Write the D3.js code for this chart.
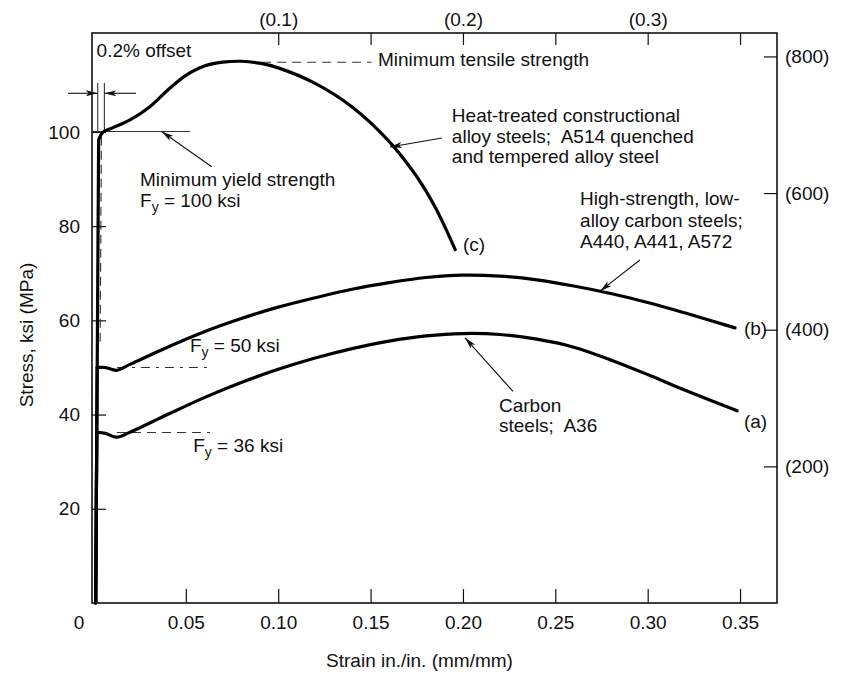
<!DOCTYPE html>
<html>
<head>
<meta charset="utf-8">
<script src="https://cdn.jsdelivr.net/npm/d3@7"></script>
<style>
  body { margin: 0; background: #fff; }
  svg text { font-family: "Liberation Sans", Arial, sans-serif; fill: #111; }
</style>
</head>
<body>
<svg id="chart" width="846" height="675"></svg>
<script>
// Curve (a): carbon steel A36  -- strain in./in., stress ksi
const strainA = [0.0012, 0.0018, 0.0065, 0.0125, 0.0200, 0.04, 0.06, 0.08, 0.10, 0.12, 0.14, 0.16, 0.18, 0.20, 0.22, 0.24, 0.26, 0.28, 0.30, 0.32, 0.3484];
const stressA = [0, 36.2, 36.0, 35.2, 36.3, 40.0, 43.6, 46.8, 49.6, 52.0, 54.0, 55.6, 56.7, 57.2, 57.0, 56.0, 54.3, 51.6, 48.5, 45.2, 40.8];

// Curve (b): high-strength low-alloy
const strainB = [0.0012, 0.0020, 0.0065, 0.0125, 0.0200, 0.04, 0.06, 0.08, 0.10, 0.12, 0.14, 0.16, 0.18, 0.20, 0.22, 0.24, 0.26, 0.28, 0.30, 0.32, 0.3473];
const stressB = [0, 50.0, 50.0, 49.4, 50.7, 54.3, 57.6, 60.4, 62.8, 64.8, 66.6, 68.0, 69.1, 69.6, 69.4, 68.6, 67.3, 65.7, 63.8, 61.6, 58.4];

// Curve (c): heat-treated alloy steel A514
const strainC = [0.0012, 0.0028, 0.0050, 0.010, 0.020, 0.030, 0.040, 0.050, 0.060, 0.070, 0.080, 0.090, 0.100, 0.120, 0.140, 0.160, 0.175, 0.185, 0.1958];
const stressC = [0, 98.3, 99.9, 100.8, 102.6, 105.2, 108.8, 112.0, 114.0, 114.8, 115.0, 114.6, 113.6, 110.3, 105.3, 98.0, 90.5, 84.0, 75.0];

const xTicks = [0, 0.05, 0.10, 0.15, 0.20, 0.25, 0.30, 0.35];
const xTickLabels = ["0", "0.05", "0.10", "0.15", "0.20", "0.25", "0.30", "0.35"];
const topTicks = [0.10, 0.15, 0.20, 0.25, 0.30, 0.35];
const topLabels = ["(0.1)", "", "(0.2)", "", "(0.3)", ""];
const yTicks = [20, 40, 60, 80, 100];
const mpaTicks = [200, 400, 600, 800];
const KSI_TO_MPA = 6.895;

const svg = d3.select("#chart");

const x = d3.scaleLinear().domain([-0.0008, 0.37]).range([92, 777]);
const y = d3.scaleLinear().domain([0, 121]).range([603, 33]);
const yM = d3.scaleLinear().domain([0, 121 * KSI_TO_MPA]).range([603, 33]);

// frame
svg.append("rect")
  .attr("x", x.range()[0]).attr("y", y.range()[1])
  .attr("width", x.range()[1] - x.range()[0])
  .attr("height", y.range()[0] - y.range()[1])
  .attr("fill", "none").attr("stroke", "#111").attr("stroke-width", 1.6);

// axes (ticks point inward)
const gx = svg.append("g").attr("transform", `translate(0,${y(0)})`)
  .call(d3.axisBottom(x).tickValues(xTicks).tickSizeInner(-14).tickSizeOuter(0)
    .tickPadding(13).tickFormat((d, i) => xTickLabels[i]));
gx.selectAll(".tick").filter(d => d === 0).select("line").remove();
gx.selectAll(".tick").filter(d => d === 0).select("text").attr("x", -15);

const gt = svg.append("g").attr("transform", `translate(0,${y.range()[1]})`)
  .call(d3.axisTop(x).tickValues(topTicks).tickSizeInner(-12).tickSizeOuter(0)
    .tickPadding(7).tickFormat((d, i) => topLabels[i]));

const gy = svg.append("g").attr("transform", `translate(${x.range()[0]},0)`)
  .call(d3.axisLeft(y).tickValues(yTicks).tickSizeInner(-14).tickSizeOuter(0).tickPadding(12));

const gr = svg.append("g").attr("transform", `translate(${x.range()[1]},0)`)
  .call(d3.axisRight(yM).tickValues(mpaTicks).tickSizeInner(-13).tickSizeOuter(0)
    .tickPadding(8).tickFormat(d => `(${d})`));

[gx, gt, gy, gr].forEach(g => {
  g.select(".domain").remove();
  g.selectAll("text").attr("font-size", 19).attr("font-family", null).attr("fill", "#111");
  g.selectAll("line").attr("stroke", "#111").attr("stroke-width", 1.2);
});

// axis titles
svg.append("text")
  .attr("x", (x.range()[0] + x.range()[1]) / 2 - 15).attr("y", 667)
  .attr("text-anchor", "middle").attr("font-size", 19)
  .text("Strain in./in. (mm/mm)");

svg.append("text")
  .attr("transform", `translate(33,${(y.range()[0] + y.range()[1]) / 2 + 17}) rotate(-90)`)
  .attr("text-anchor", "middle").attr("font-size", 19)
  .text("Stress, ksi (MPa)");

// reference lines
const ref = svg.append("g").attr("fill", "none").attr("stroke", "#333").attr("stroke-width", 1.1);

// 0.2% offset marks
ref.append("line").attr("x1", x(0.0023)).attr("x2", x(0.0023)).attr("y1", y(110.4)).attr("y2", y(100.2));
ref.append("line").attr("x1", x(0.0059)).attr("x2", x(0.0059)).attr("y1", y(110.4)).attr("y2", y(100.2));
ref.append("line").attr("x1", x(0.0043)).attr("x2", x(0.0036)).attr("y1", y(99)).attr("y2", y(55))
  .attr("stroke-dasharray", "9,5");
// minimum yield level
ref.append("line").attr("x1", x(-0.0008)).attr("x2", x(0.0522)).attr("y1", y(100.1)).attr("y2", y(100.1));
// tensile level
ref.append("line").attr("x1", x(0.0913)).attr("x2", x(0.1505)).attr("y1", y(114.8)).attr("y2", y(114.8))
  .attr("stroke-dasharray", "9,6");
// Fy = 50 and 36 levels
ref.append("line").attr("x1", x(0.0127)).attr("x2", x(0.0647)).attr("y1", y(50)).attr("y2", y(50))
  .attr("stroke-dasharray", "9,6,3,6");
ref.append("line").attr("x1", x(0.0127)).attr("x2", x(0.0631)).attr("y1", y(36.2)).attr("y2", y(36.2))
  .attr("stroke-dasharray", "9,6");

// arrow marker
svg.append("defs").append("marker")
  .attr("id", "ah").attr("viewBox", "0 0 12 6").attr("refX", 12).attr("refY", 3)
  .attr("markerWidth", 12).attr("markerHeight", 6).attr("markerUnits", "userSpaceOnUse")
  .attr("orient", "auto")
  .append("path").attr("d", "M0,0 L12,3 L0,6 L3,3 Z").attr("fill", "#111");

const arrows = [
  [[-0.0138, 108.2], [0.0023, 108.2]],
  [[0.0230, 108.2], [0.0059, 108.2]],
  [[0.0640, 92.6], [0.0369, 100.1]],
  [[0.1886, 98.7], [0.1605, 96.8]],
  [[0.2958, 72.8], [0.2742, 66.2]],
  [[0.2271, 44.9], [0.2011, 56.3]]
];
svg.append("g").selectAll("line").data(arrows).join("line")
  .attr("x1", d => x(d[0][0])).attr("y1", d => y(d[0][1]))
  .attr("x2", d => x(d[1][0])).attr("y2", d => y(d[1][1]))
  .attr("stroke", "#111").attr("stroke-width", 1.1)
  .attr("marker-end", "url(#ah)");

// curves: straight elastic part + smooth plastic part
const lineLin = d3.line().x(d => x(d[0])).y(d => y(d[1]));
const lineSmooth = d3.line().x(d => x(d[0])).y(d => y(d[1])).curve(d3.curveCatmullRom.alpha(0.5));
const curves = [[strainA, stressA], [strainB, stressB], [strainC, stressC]];
const cg = svg.append("g").attr("fill", "none").attr("stroke", "#000")
  .attr("stroke-width", 3.2).attr("stroke-linecap", "round").attr("stroke-linejoin", "round");
curves.forEach(([xs, ys]) => {
  const pts = xs.map((v, i) => [v, ys[i]]);
  cg.append("path").attr("d", lineLin(pts.slice(0, 2)));
  cg.append("path").attr("d", lineSmooth(pts.slice(1)));
});

// text annotations
const notes = [
  {s: 0.0017, k: 115.9, t: "0.2% offset"},
  {s: 0.1540, k: 113.9, t: "Minimum tensile strength"},
  {s: 0.1940, k: 102.1, t: "Heat-treated constructional"},
  {s: 0.1940, k: 97.6, t: "alloy steels;  A514 quenched"},
  {s: 0.1940, k: 93.3, t: "and tempered alloy steel"},
  {s: 0.0252, k: 88.5, t: "Minimum yield strength"},
  {s: 0.2000, k: 74.8, t: "(c)"},
  {s: 0.2634, k: 84.5, t: "High-strength, low-"},
  {s: 0.2634, k: 79.9, t: "alloy carbon steels;"},
  {s: 0.2634, k: 75.3, t: "A440, A441, A572"},
  {s: 0.3521, k: 56.9, t: "(b)"},
  {s: 0.3521, k: 37.1, t: "(a)"},
  {s: 0.2195, k: 40.6, t: "Carbon"},
  {s: 0.2195, k: 36.3, t: "steels;  A36"}
];
svg.append("g").selectAll("text").data(notes).join("text")
  .attr("x", d => x(d.s)).attr("y", d => y(d.k))
  .attr("font-size", 19).style("white-space", "pre")
  .text(d => d.t);

// F_y labels with subscript
const fy = [
  {s: 0.0252, k: 84.1, v: "100"},
  {s: 0.0522, k: 53.3, v: "50"},
  {s: 0.0540, k: 32.1, v: "36"}
];
const fyText = svg.append("g").selectAll("text").data(fy).join("text")
  .attr("x", d => x(d.s)).attr("y", d => y(d.k)).attr("font-size", 19);
fyText.append("tspan").text("F");
fyText.append("tspan").attr("font-size", 14).attr("dy", 5).text("y");
fyText.append("tspan").attr("dy", -5).text(d => ` = ${d.v} ksi`);
</script>
</body>
</html>
